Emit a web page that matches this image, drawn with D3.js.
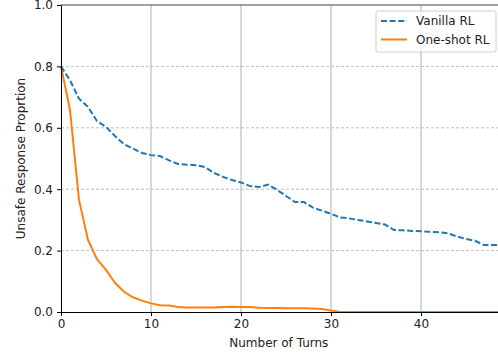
<!DOCTYPE html>
<html>
<head>
<meta charset="utf-8">
<script src="https://cdn.jsdelivr.net/npm/d3@7"></script>
<style>
  body { margin: 0; background: #fff; }
  svg { font-family: "DejaVu Sans", sans-serif; }
</style>
</head>
<body>
<svg id="chart" width="498" height="358"></svg>
<script>
const turns = d3.range(0, 50);
const vanillaRL = [
  0.800, 0.755, 0.695, 0.668, 0.622, 0.603, 0.573, 0.547, 0.532, 0.518,
  0.511, 0.508, 0.494, 0.482, 0.480, 0.478, 0.472, 0.453, 0.440, 0.430,
  0.422, 0.410, 0.407, 0.415, 0.398, 0.378, 0.358, 0.358, 0.340, 0.330,
  0.320, 0.308, 0.305, 0.300, 0.295, 0.290, 0.285, 0.267, 0.266, 0.264,
  0.263, 0.261, 0.260, 0.256, 0.246, 0.238, 0.232, 0.218, 0.218, 0.218
];
const oneShotRL = [
  0.800, 0.658, 0.365, 0.235, 0.172, 0.137, 0.095, 0.066, 0.048, 0.037,
  0.028, 0.022, 0.021, 0.016, 0.015, 0.015, 0.015, 0.015, 0.016, 0.017,
  0.016, 0.016, 0.014, 0.013, 0.013, 0.012, 0.012, 0.012, 0.011, 0.010,
  0.005, 0.000, 0.000, 0.000, 0.000, 0.000, 0.000, 0.000, 0.000, 0.000,
  0.000, 0.000, 0.000, 0.000, 0.000, 0.000, 0.000, 0.000, 0.000, 0.000
];
const xTicks = [0, 10, 20, 30, 40];
const yTicks = [0, 0.2, 0.4, 0.6, 0.8, 1.0];
const seriesNames = ["Vanilla RL", "One-shot RL"];

const margin = { top: 5, left: 61 };
const plotW = 441, plotH = 307;

const svg = d3.select('#chart');
const g = svg.append('g').attr('transform', `translate(${margin.left},${margin.top})`);

const x = d3.scaleLinear().domain([0, 49]).range([0, plotW]);
const y = d3.scaleLinear().domain([0, 1]).range([plotH, 0]);

// grid
g.append('g').selectAll('line').data(xTicks.slice(1)).enter().append('line')
  .attr('x1', d => x(d)).attr('x2', d => x(d))
  .attr('y1', 0).attr('y2', plotH)
  .attr('stroke', '#b0b0b0').attr('stroke-width', 1);
g.append('g').selectAll('line').data(yTicks.slice(1, -1)).enter().append('line')
  .attr('x1', 0).attr('x2', plotW)
  .attr('y1', d => y(d)).attr('y2', d => y(d))
  .attr('stroke', '#b0b0b0').attr('stroke-width', 0.8)
  .attr('stroke-dasharray', '3,2');

// lines
const line = d3.line().x((d, i) => x(turns[i])).y(d => y(d));
g.append('path').datum(oneShotRL)
  .attr('fill', 'none').attr('stroke', '#ff7f0e').attr('stroke-width', 2)
  .attr('d', line);
g.append('path').datum(vanillaRL)
  .attr('fill', 'none').attr('stroke', '#1f77b4').attr('stroke-width', 2)
  .attr('stroke-dasharray', '6,2.6')
  .attr('d', line);

// axes
const xAxis = g.append('g').attr('transform', `translate(0,${plotH})`)
  .call(d3.axisBottom(x).tickValues(xTicks).tickSize(4).tickPadding(3).tickFormat(d3.format('d')));
const yAxis = g.append('g')
  .call(d3.axisLeft(y).tickValues(yTicks).tickSize(4).tickPadding(4).tickFormat(d3.format('.1f')));
[xAxis, yAxis].forEach(a => {
  a.select('.domain').attr('stroke', '#000').attr('stroke-width', 1);
  a.selectAll('.tick line').attr('stroke', '#000');
  a.selectAll('.tick text').attr('fill', '#222').style('font-size', '12px')
    .style('font-family', '"DejaVu Sans", sans-serif');
});
g.append('line').attr('x1', 0).attr('x2', plotW).attr('y1', 0).attr('y2', 0)
  .attr('stroke', '#444').attr('stroke-width', 1);

// labels
svg.append('text').attr('x', margin.left + x(24.2)).attr('y', 347)
  .attr('text-anchor', 'middle').style('font-size', '12px').attr('fill', '#222')
  .text('Number of Turns');
svg.append('text').attr('transform', `translate(25,${margin.top + plotH / 2}) rotate(-90)`)
  .attr('text-anchor', 'middle').style('font-size', '12px').attr('fill', '#222')
  .text('Unsafe Response Proprtion');

// legend
const legend = svg.append('g').attr('transform', 'translate(376,11)');
legend.append('rect').attr('width', 120).attr('height', 41).attr('rx', 2)
  .attr('fill', '#fff').attr('fill-opacity', 0.8)
  .attr('stroke', '#d0d0d0').attr('stroke-width', 1);
const colors = ['#1f77b4', '#ff7f0e'];
const dashes = ['6,2.6', null];
seriesNames.forEach((name, i) => {
  const yy = 10 + i * 18.5;
  legend.append('line').attr('x1', 5).attr('x2', 31).attr('y1', yy).attr('y2', yy)
    .attr('stroke', colors[i]).attr('stroke-width', 2)
    .attr('stroke-dasharray', dashes[i]);
  legend.append('text').attr('x', 40).attr('y', yy + 4)
    .style('font-size', '12px').attr('fill', '#222').text(name);
});
</script>
</body>
</html>
